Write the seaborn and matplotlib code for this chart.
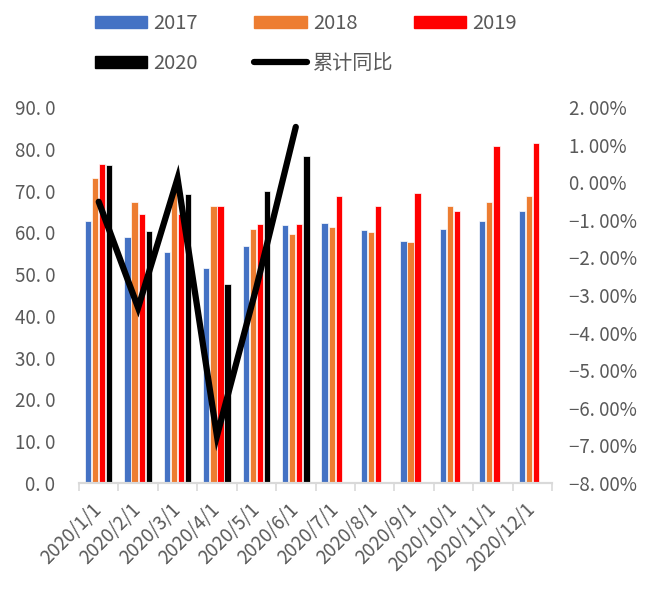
import numpy as np
import pandas as pd
import seaborn as sns
import matplotlib.pyplot as plt
from matplotlib.patches import Patch
from matplotlib.lines import Line2D

sns.set_theme(style='white')
plt.rcParams['font.family'] = ['Noto Sans CJK SC', 'DejaVu Sans']

months = ['2020/1/1', '2020/2/1', '2020/3/1', '2020/4/1', '2020/5/1', '2020/6/1',
          '2020/7/1', '2020/8/1', '2020/9/1', '2020/10/1', '2020/11/1', '2020/12/1']
v2017 = [62.8, 58.8, 55.4, 51.4, 56.8, 61.8, 62.2, 60.5, 58.0, 60.7, 62.8, 65.0]
v2018 = [72.9, 67.2, 70.8, 66.4, 60.9, 59.5, 61.3, 60.0, 57.6, 66.4, 67.3, 68.8]
v2019 = [76.4, 64.4, 64.3, 66.3, 61.9, 62.1, 68.6, 66.4, 69.5, 65.0, 80.7, 81.4]
v2020 = [76.0, 60.2, 69.2, 47.6, 69.9, 78.3] + [np.nan] * 6
yoy = [-0.52, -3.34, 0.10, -6.75, -2.8, 1.47]  # 累计同比, %

years = ['2017', '2018', '2019', '2020']
colors = ['#4472C4', '#ED7D31', '#FF0000', '#000000']

df = pd.concat([pd.DataFrame({'month': months, 'year': y, 'value': v})
                for y, v in zip(years, [v2017, v2018, v2019, v2020])],
               ignore_index=True)

fig = plt.figure(figsize=(6.59, 5.90), dpi=100)
ax = fig.add_axes([79 / 659, 1 - 483 / 590, 473 / 659, 376 / 590])

sns.barplot(data=df, x='month', y='value', hue='year', hue_order=years,
            palette=colors, width=0.72, gap=0.12, saturation=1,
            edgecolor='white', linewidth=0.5, legend=False, ax=ax)

ax2 = ax.twinx()
sns.lineplot(x=np.arange(len(yoy)), y=yoy, color='black', linewidth=4.5,
             solid_capstyle='round', solid_joinstyle='miter', ax=ax2)

ax.set_xlim(-0.5, 11.5)
ax.set_ylim(0, 90)
ax2.set_ylim(-8, 2)
ax.set_xlabel('')
ax.set_ylabel('')

grey = '#595959'
ax.set_yticks(np.arange(0, 91, 10))
ax.set_yticklabels([f'{v:.0f}. 0' for v in np.arange(0, 91, 10)])
ax2.set_yticks(np.arange(-8, 3, 1))
ax2.set_yticklabels([f'{v:.0f}. 00%'.replace('-', '\u2212') for v in np.arange(-8, 3, 1)])

ax.tick_params(axis='y', length=0, pad=17, labelsize=13.5, labelcolor=grey)
ax2.tick_params(axis='y', length=0, pad=12, labelsize=13.5, labelcolor=grey)

ax.set_xticks(range(12))
ax.set_xticklabels(months, rotation=45, ha='right', va='center',
                   rotation_mode='anchor')
ax.tick_params(axis='x', which='major', length=0, pad=17, labelsize=13.5,
               labelcolor=grey)
ax.set_xticks(np.arange(-0.5, 12, 1), minor=True)
ax.tick_params(axis='x', which='minor', length=6, width=1.2, color='#D9D9D9',
               direction='out', bottom=True)

for a in (ax, ax2):
    for s in ('top', 'left', 'right'):
        a.spines[s].set_visible(False)
    a.spines['bottom'].set_color('#D9D9D9')
    a.spines['bottom'].set_linewidth(1.5)

# legend: two rows built as two legends so the columns line up
leg_kw = dict(loc='upper left', frameon=False, fontsize=14.5, labelcolor=grey,
              handlelength=2.6, handleheight=0.55, handletextpad=0.3,
              columnspacing=2.8, borderpad=0, borderaxespad=0)
row1 = [Patch(color=c) for c in colors[:3]]
fig.legend(row1, years[:3], ncol=3, bbox_to_anchor=(95 / 659, 1 - 13 / 590), **leg_kw)
row2 = [Patch(color=colors[3]),
        Line2D([], [], color='black', linewidth=4.5, solid_capstyle='round')]
fig.legend(row2, ['2020', '累计同比'], ncol=2,
           bbox_to_anchor=(95 / 659, 1 - 53 / 590), **leg_kw)

fig.savefig('out.png', dpi=100)
